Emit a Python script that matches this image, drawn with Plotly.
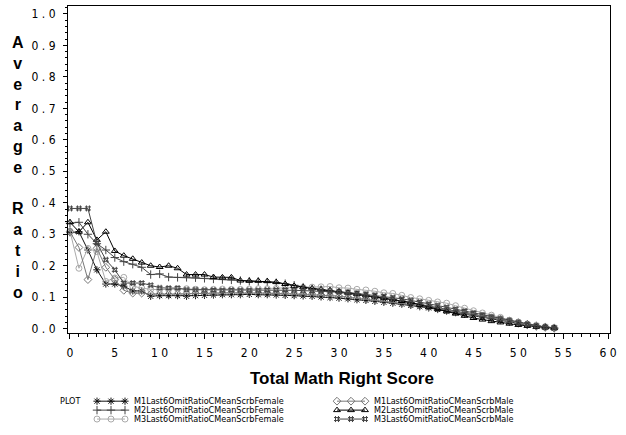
import plotly.graph_objects as go

score = list(range(0, 55))

m1_female = [0.305, 0.308, 0.25, 0.187, 0.142, 0.142, 0.135, 0.12, 0.12, 0.103,
             0.105, 0.105, 0.105, 0.103, 0.105, 0.106, 0.107, 0.108, 0.108, 0.108,
             0.109, 0.108, 0.108, 0.107, 0.106, 0.105, 0.104, 0.103, 0.101, 0.099,
             0.097, 0.095, 0.092, 0.09, 0.087, 0.084, 0.081, 0.078, 0.074, 0.07,
             0.066, 0.061, 0.056, 0.051, 0.046, 0.041, 0.036, 0.031, 0.026, 0.021,
             0.016, 0.011, 0.007, 0.004, 0.002]
m2_female = [0.335, 0.338, 0.30, 0.27, 0.25, 0.226, 0.213, 0.205, 0.195, 0.172,
             0.174, 0.164, 0.163, 0.163, 0.162, 0.16, 0.158, 0.156, 0.155, 0.153,
             0.151, 0.15, 0.148, 0.146, 0.143, 0.138, 0.132, 0.128, 0.124, 0.12,
             0.116, 0.113, 0.11, 0.106, 0.102, 0.097, 0.093, 0.088, 0.083, 0.078,
             0.072, 0.067, 0.061, 0.056, 0.05, 0.044, 0.039, 0.034, 0.029, 0.024,
             0.019, 0.014, 0.009, 0.005, 0.002]
m3_female = [0.31, 0.192, 0.255, 0.245, 0.15, 0.161, 0.163, 0.135, 0.129, 0.125,
             0.124, 0.125, 0.126, 0.127, 0.125, 0.124, 0.125, 0.126, 0.125, 0.125,
             0.126, 0.127, 0.127, 0.128, 0.129, 0.13, 0.131, 0.132, 0.133, 0.134,
             0.13, 0.129, 0.125, 0.123, 0.119, 0.114, 0.112, 0.106, 0.099, 0.095,
             0.09, 0.085, 0.081, 0.073, 0.065, 0.057, 0.05, 0.043, 0.036, 0.027,
             0.021, 0.013, 0.008, 0.004, 0.002]
m1_male = [0.308, 0.258, 0.156, 0.255, 0.195, 0.156, 0.122, 0.113, 0.113, 0.11,
           0.11, 0.109, 0.11, 0.111, 0.112, 0.112, 0.113, 0.113, 0.114, 0.113,
           0.114, 0.113, 0.113, 0.112, 0.112, 0.111, 0.11, 0.109, 0.107, 0.105,
           0.103, 0.1, 0.097, 0.094, 0.091, 0.088, 0.085, 0.081, 0.077, 0.073,
           0.069, 0.064, 0.059, 0.054, 0.049, 0.044, 0.039, 0.034, 0.028, 0.023,
           0.018, 0.013, 0.008, 0.005, 0.002]
m2_male = [0.338, 0.308, 0.338, 0.282, 0.308, 0.247, 0.232, 0.222, 0.21, 0.2,
           0.196, 0.2, 0.192, 0.172, 0.172, 0.172, 0.164, 0.163, 0.163, 0.153,
           0.152, 0.152, 0.151, 0.148, 0.142, 0.136, 0.132, 0.128, 0.125, 0.122,
           0.118, 0.114, 0.11, 0.106, 0.102, 0.098, 0.093, 0.088, 0.083, 0.076,
           0.068, 0.062, 0.055, 0.048, 0.041, 0.034, 0.029, 0.024, 0.02, 0.016,
           0.012, 0.009, 0.006, 0.004, 0.002]
m3_male = [0.382, 0.382, 0.382, 0.272, 0.219, 0.187, 0.145, 0.145, 0.145, 0.138,
           0.13, 0.129, 0.129, 0.124, 0.124, 0.122, 0.123, 0.122, 0.123, 0.122,
           0.122, 0.122, 0.123, 0.123, 0.123, 0.122, 0.121, 0.12, 0.119, 0.118,
           0.117, 0.115, 0.112, 0.109, 0.106, 0.103, 0.099, 0.095, 0.09, 0.085,
           0.079, 0.074, 0.068, 0.062, 0.056, 0.05, 0.044, 0.038, 0.032, 0.026,
           0.02, 0.015, 0.01, 0.006, 0.003]

series_names = ["M1Last6OmitRatioCMeanScrbFemale", "M2Last6OmitRatioCMeanScrbFemale",
                "M3Last6OmitRatioCMeanScrbFemale", "M1Last6OmitRatioCMeanScrbMale",
                "M2Last6OmitRatioCMeanScrbMale", "M3Last6OmitRatioCMeanScrbMale"]
series_values = [m1_female, m2_female, m3_female, m1_male, m2_male, m3_male]
series_colors = ["#111111", "#444444", "#aaaaaa", "#777777", "#000000", "#444444"]
series_symbols = ["asterisk-open", "cross-thin-open", "circle-open",
                  "diamond-open", "triangle-up-open", "hash-open"]

x_tick_vals = list(range(0, 61, 5))
x_tick_text = [" ".join(str(v)) for v in x_tick_vals]
y_tick_vals = [i / 10 for i in range(11)]
y_tick_text = [" . ".join(f"{v:.1f}".split(".")) for v in y_tick_vals]

narrow = "DejaVu Sans Condensed, Liberation Sans Narrow, Arial Narrow, sans-serif"

fig = go.Figure()
for name, vals, col, sym in zip(series_names, series_values, series_colors, series_symbols):
    fig.add_trace(go.Scatter(
        x=score, y=vals, mode="lines+markers", name=name, showlegend=False,
        line=dict(color=col, width=1),
        marker=dict(symbol=sym, size=6, color=col, line=dict(color=col, width=1)),
        xaxis="x", yaxis="y", cliponaxis=False))

# legend keys drawn on a small helper axis (positions in pixel offsets)
for i, (name, col, sym) in enumerate(zip(series_names, series_colors, series_symbols)):
    c, r = i // 3, i % 3
    base = 29 + c * 240
    fig.add_trace(go.Scatter(
        x=[base, base + 14, base + 28], y=[r, r, r], mode="lines+markers",
        showlegend=False, hoverinfo="skip",
        line=dict(color=col, width=1),
        marker=dict(symbol=sym, size=6, color=col, line=dict(color=col, width=1)),
        xaxis="x2", yaxis="y2", cliponaxis=False))
    fig.add_annotation(x=base + 35, y=r, xref="x2", yref="y2", text=name,
                       showarrow=False, xanchor="left", yanchor="middle",
                       font=dict(family=narrow, size=9, color="black"))

fig.add_annotation(x=(58 - 68) / 542, y=0, xref="paper", yref="y2", text="PLOT",
                   showarrow=False, xanchor="left", yanchor="middle",
                   font=dict(family=narrow, size=9, color="black"))

H = 435
mt, mb = 6, 5
ph = H - mt - mb
y_dom0 = (H - mb - 335) / ph

fig.add_annotation(
    x=(18 - 68) / 542, y=y_dom0 + (1 - y_dom0) * ((335 - 168.5) / 329),
    xref="paper", yref="paper",
    text="<b>" + "<br>".join(list("Average")) + "<br><br>" + "<br>".join(list("Ratio")) + "</b>",
    showarrow=False, xanchor="center", yanchor="middle",
    font=dict(family="Liberation Sans, Arial, sans-serif", size=16, color="black"))

fig.add_annotation(
    x=0.5 - (68 + 271 - 342) / 542, y=y_dom0 - (381 - 335) / ph,
    xref="paper", yref="paper", text="<b>Total Math Right Score</b>",
    showarrow=False, xanchor="center", yanchor="middle",
    font=dict(family="Liberation Sans, Arial, sans-serif", size=17, color="black"))

fig.update_layout(
    width=626, height=435,
    margin=dict(l=68, r=16, t=mt, b=mb),
    paper_bgcolor="white", plot_bgcolor="white",
    xaxis=dict(range=[-0.22, 60.22], domain=[0, 1], anchor="y",
               tickmode="array", tickvals=x_tick_vals, ticktext=x_tick_text,
               ticks="outside", ticklen=5, tickcolor="black",
               minor=dict(dtick=1, ticks="outside", ticklen=3, tickcolor="black"),
               showline=True, linecolor="black", linewidth=1, mirror=True,
               showgrid=False, zeroline=False, ticklabelstandoff=4,
               tickfont=dict(family=narrow, size=12, color="black")),
    yaxis=dict(range=[-0.0126, 1.025], domain=[y_dom0, 1], anchor="x",
               tickmode="array", tickvals=y_tick_vals, ticktext=y_tick_text,
               ticks="outside", ticklen=4, tickcolor="black",
               minor=dict(dtick=0.02, ticks="outside", ticklen=2, tickcolor="black"),
               showline=True, linecolor="black", linewidth=1, mirror=True,
               showgrid=False, zeroline=False, ticklabelstandoff=5,
               tickfont=dict(family=narrow, size=12, color="black")),
    xaxis2=dict(range=[0, 542], domain=[0, 1], anchor="y2", visible=False,
                fixedrange=True),
    yaxis2=dict(range=[2 + (H - mb - 422) / 9, -(404 - 398) / 9],
                domain=[0, (H - mb - 398) / ph], anchor="x2", visible=False,
                fixedrange=True),
)

fig.write_html("out.html")
